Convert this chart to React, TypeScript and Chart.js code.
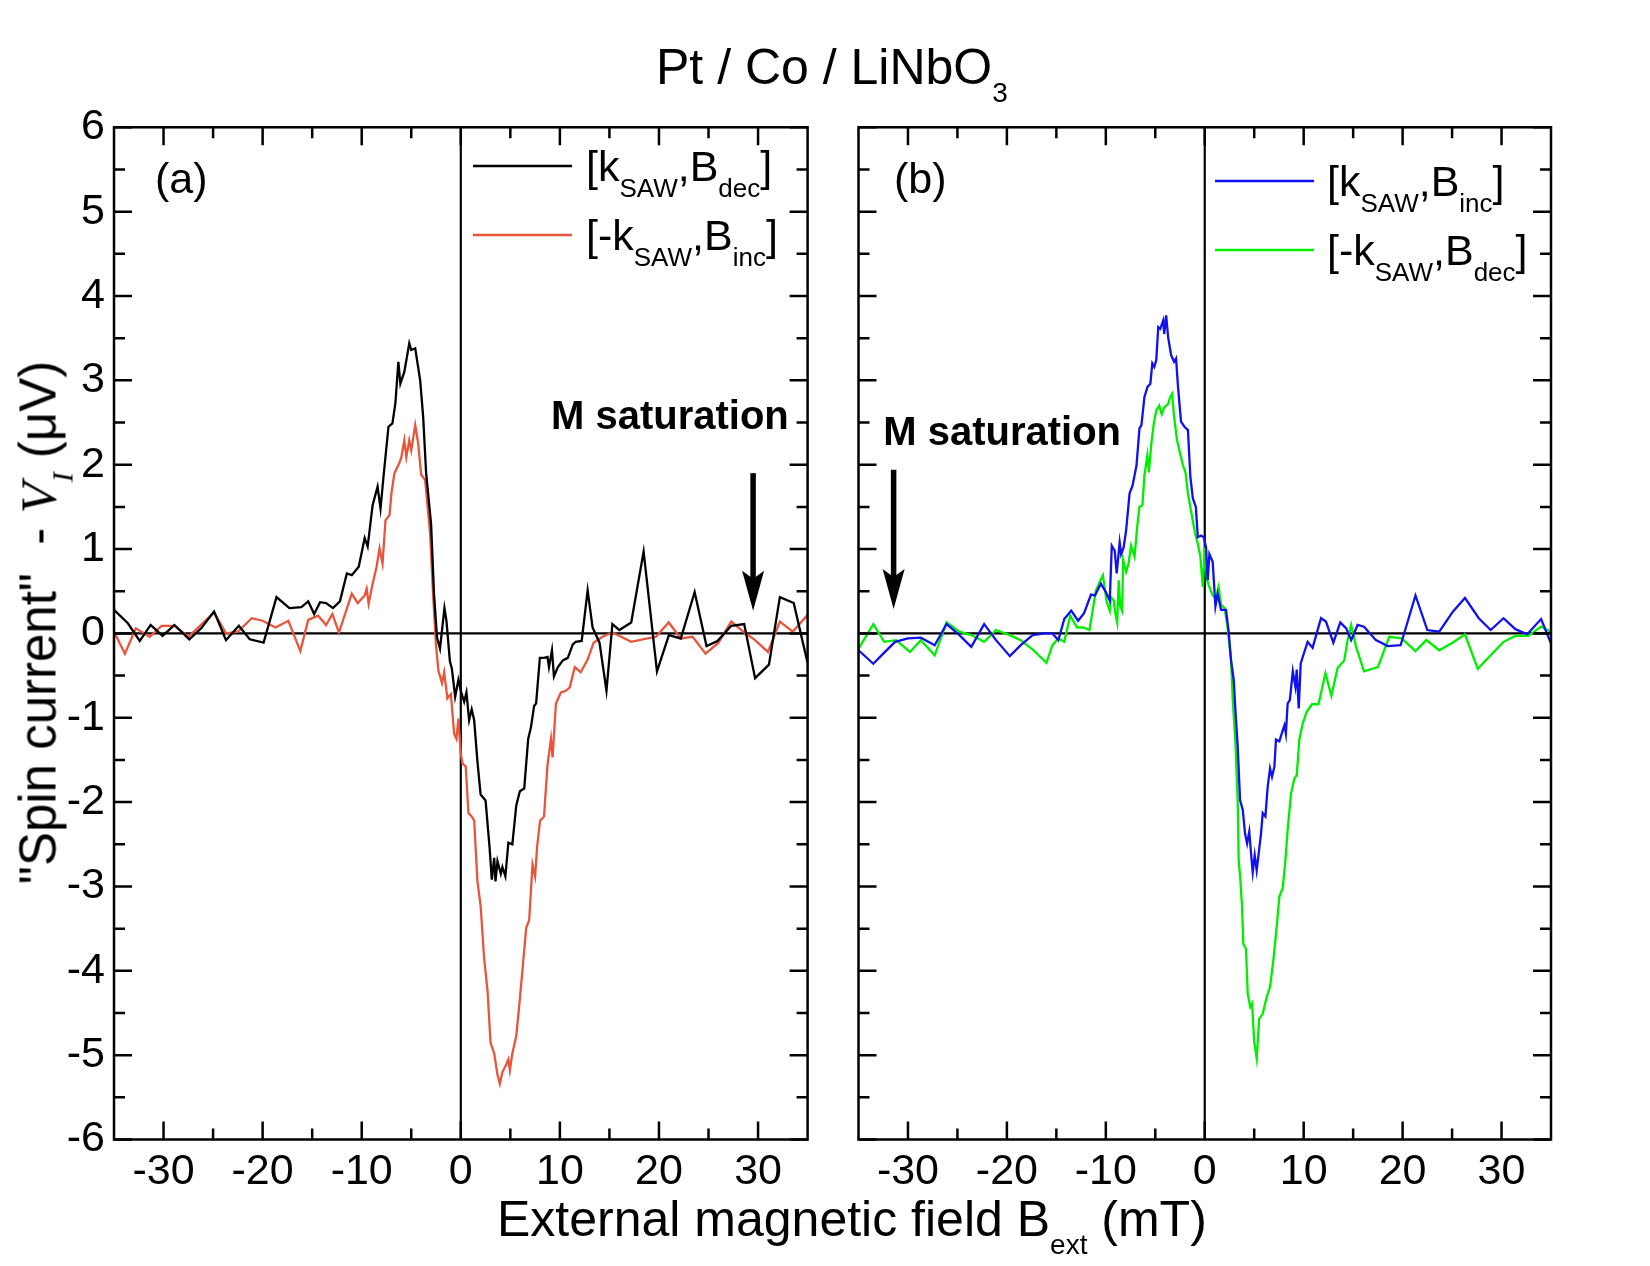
import { useEffect, useRef } from "react";
import { Chart, registerables } from "chart.js";

Chart.register(...registerables);

const FONT = "'Liberation Sans', Arial, sans-serif";

// panel (a): [k_SAW, B_dec]
const kSawDecX = [-35.0, -33.6, -32.4, -31.3, -30.1, -28.9, -27.4, -26.2, -24.9, -23.7, -22.4, -21.3, -19.9, -18.6, -17.3, -16.1, -15.4, -14.8, -14.2, -13.6, -12.9, -12.2, -11.5, -11.0, -10.3, -9.7, -9.4, -8.9, -8.4, -8.1, -7.8, -7.3, -6.9, -6.6, -6.3, -6.1, -5.7, -5.2, -5.0, -4.6, -4.1, -3.8, -3.5, -3.0, -2.7, -2.4, -2.1, -1.65, -1.45, -1.1, -0.9, -0.57, -0.24, 0, 0.34, 0.57, 0.84, 1.1, 1.35, 1.68, 2.0, 2.5, 2.9, 3.13, 3.37, 3.5, 3.7, 4.04, 4.2, 4.5, 4.8, 5.2, 5.6, 5.96, 6.4, 6.8, 7.07, 7.4, 7.6, 7.98, 8.4, 8.75, 8.9, 9.2, 9.4, 9.8, 10.3, 10.8, 11.3, 11.6, 12.2, 12.8, 13.3, 14.0, 14.7, 15.3, 16.0, 17.2, 18.45, 19.8, 21.0, 22.2, 23.6, 24.8, 25.9, 27.3, 28.6, 29.7, 31.1, 32.2, 33.6, 35.0];
const kSawDecY = [0.28, 0.12, -0.09, 0.10, -0.03, 0.10, -0.07, 0.06, 0.26, -0.08, 0.09, -0.07, -0.11, 0.43, 0.30, 0.31, 0.38, 0.23, 0.37, 0.36, 0.30, 0.38, 0.71, 0.69, 0.79, 1.13, 1.03, 1.52, 1.74, 1.48, 1.86, 2.45, 2.49, 2.73, 3.22, 2.96, 3.10, 3.44, 3.36, 3.38, 3.00, 2.57, 1.90, 1.30, 0.46, -0.05, -0.18, 0.30, 0.15, -0.33, -0.42, -0.75, -0.55, -0.68, -0.81, -0.70, -1.03, -0.90, -1.03, -1.52, -1.91, -1.98, -2.53, -2.92, -2.66, -2.94, -2.70, -2.85, -2.77, -2.88, -2.48, -2.50, -2.04, -1.87, -1.84, -1.25, -1.12, -0.86, -0.83, -0.29, -0.29, -0.28, -0.40, -0.20, -0.51, -0.40, -0.32, -0.29, -0.13, -0.10, -0.09, 0.51, 0.07, -0.11, -0.68, 0.11, 0.04, 0.13, 0.97, -0.45, -0.02, -0.06, 0.49, -0.15, -0.09, 0.09, 0.11, -0.53, -0.37, 0.43, 0.36, -0.35];

// panel (a): [-k_SAW, B_inc]
const mkSawIncX = [-35.0, -33.9, -32.8, -31.4, -30.2, -28.9, -27.5, -26.4, -24.9, -23.7, -22.5, -21.1, -20.0, -18.7, -17.4, -16.2, -15.4, -14.4, -13.6, -12.96, -12.3, -11.0, -10.4, -9.7, -9.5, -9.3, -8.9, -8.5, -8.2, -7.9, -7.6, -7.2, -7.0, -6.7, -6.2, -6.0, -5.7, -5.5, -5.2, -5.0, -4.6, -4.3, -4.0, -3.6, -3.1, -2.8, -2.5, -2.26, -1.9, -1.68, -1.35, -1.0, -0.67, -0.44, -0.24, 0, 0.17, 0.5, 0.77, 1.1, 1.35, 1.68, 2.0, 2.36, 2.7, 3.0, 3.37, 3.7, 3.94, 4.2, 4.55, 4.8, 4.95, 5.2, 5.6, 5.9, 6.2, 6.6, 6.9, 7.24, 7.5, 7.7, 8.0, 8.4, 8.75, 9.1, 9.26, 9.4, 9.6, 10.1, 10.6, 11.0, 11.5, 12.1, 12.8, 13.4, 14.3, 15.3, 17.2, 18.35, 19.7, 20.98, 22.2, 23.4, 24.7, 26.0, 27.3, 28.5, 29.6, 31.0, 32.2, 33.5, 35.0];
const mkSawIncY = [0.02, -0.24, 0.06, -0.04, 0.09, 0.09, -0.04, 0.08, 0.25, 0.0, 0.02, 0.18, 0.15, 0.07, 0.15, -0.21, 0.16, 0.21, 0.10, 0.23, 0.01, 0.47, 0.36, 0.45, 0.53, 0.35, 0.59, 0.79, 1.01, 0.83, 1.34, 1.40, 1.66, 1.90, 2.02, 2.09, 2.29, 2.09, 2.29, 2.17, 2.47, 2.25, 1.88, 1.82, 1.19, 0.47, -0.15, -0.44, -0.59, -0.46, -0.77, -0.72, -1.19, -1.25, -1.01, -1.43, -1.54, -1.58, -2.13, -2.17, -2.22, -2.94, -3.23, -3.86, -4.24, -4.85, -4.98, -5.23, -5.34, -5.20, -5.12, -5.05, -5.18, -4.98, -4.77, -4.41, -4.02, -3.49, -3.40, -2.74, -2.88, -2.53, -2.22, -2.17, -1.56, -1.25, -1.47, -1.21, -0.83, -0.70, -0.68, -0.64, -0.40, -0.46, -0.31, -0.11, -0.04, 0.01, -0.10, -0.07, -0.04, 0.13, -0.06, -0.04, -0.24, -0.11, 0.14, 0.02, -0.07, -0.22, 0.14, 0.02, 0.22];

// panel (b): [k_SAW, B_inc]
const kSawIncX = [-35.0, -33.5, -32.5, -31.3, -30.0, -28.7, -27.3, -26.1, -24.8, -23.6, -22.3, -21.1, -19.7, -18.6, -17.4, -16.2, -15.4, -14.8, -14.2, -13.5, -12.8, -12.2, -11.5, -11.1, -10.5, -10.0, -9.6, -9.4, -9.1, -8.9, -8.6, -8.45, -8.2, -7.95, -7.6, -7.3, -6.9, -6.6, -6.4, -6.1, -5.8, -5.5, -5.3, -5.1, -4.9, -4.7, -4.5, -4.2, -4.1, -3.9, -3.7, -3.4, -3.1, -2.9, -2.7, -2.4, -2.05, -1.7, -1.45, -1.2, -0.9, -0.7, -0.37, -0.1, 0.13, 0.3, 0.47, 0.8, 1.08, 1.3, 1.65, 2.15, 2.4, 2.66, 2.93, 3.1, 3.33, 3.57, 3.84, 4.07, 4.28, 4.5, 4.68, 4.85, 5.05, 5.25, 5.45, 5.69, 5.86, 6.13, 6.36, 6.6, 6.8, 7.04, 7.2, 7.54, 7.88, 8.05, 8.2, 8.38, 8.6, 8.9, 9.16, 9.3, 9.5, 9.7, 9.9, 10.4, 10.9, 11.75, 12.25, 13.0, 13.7, 14.3, 14.8, 15.45, 16.1, 17.3, 18.5, 19.8, 21.3, 22.5, 23.7, 25.1, 26.3, 27.7, 28.9, 30.2, 31.4, 32.6, 34.0, 35.0];
const kSawIncY = [-0.20, -0.36, -0.24, -0.10, -0.06, -0.05, -0.14, 0.11, -0.02, -0.16, 0.11, -0.08, -0.27, -0.14, -0.02, 0.0, 0.0, -0.08, 0.17, 0.27, 0.15, 0.24, 0.46, 0.45, 0.59, 0.49, 0.39, 1.04, 0.98, 0.71, 1.08, 0.94, 1.02, 1.22, 1.66, 1.75, 1.99, 2.43, 2.47, 2.80, 2.92, 2.96, 3.20, 3.16, 3.24, 3.63, 3.61, 3.71, 3.55, 3.77, 3.51, 3.30, 3.22, 3.26, 2.92, 2.51, 2.45, 2.41, 1.85, 1.60, 1.50, 1.14, 1.16, 1.14, 1.02, 0.63, 0.94, 0.85, 0.32, 0.47, 0.28, 0.28, 0.04, -0.32, -0.55, -0.91, -1.34, -1.98, -2.09, -2.37, -2.49, -2.35, -2.61, -2.83, -2.63, -2.81, -2.61, -2.37, -2.13, -2.17, -1.82, -1.60, -1.70, -1.58, -1.26, -1.28, -1.15, -1.09, -1.19, -0.83, -0.79, -0.45, -0.63, -0.43, -0.89, -0.36, -0.28, -0.10, -0.17, 0.18, 0.14, -0.11, 0.13, 0.06, -0.08, 0.10, 0.08, -0.08, -0.15, -0.14, 0.45, 0.04, 0.02, 0.26, 0.42, 0.18, 0.04, 0.18, 0.05, -0.01, 0.17, -0.12];

// panel (b): [-k_SAW, B_dec]
const mkSawDecX = [-35.0, -33.5, -32.4, -31.2, -29.8, -28.7, -27.3, -26.1, -24.8, -23.6, -22.3, -21.1, -19.7, -18.6, -17.3, -16.0, -15.4, -14.8, -14.2, -13.6, -12.9, -12.3, -11.65, -11.0, -10.3, -9.9, -9.6, -9.5, -9.2, -9.05, -8.85, -8.7, -8.55, -8.35, -8.25, -7.95, -7.7, -7.45, -7.1, -6.8, -6.6, -6.3, -6.1, -5.8, -5.65, -5.4, -5.15, -4.9, -4.6, -4.35, -4.1, -3.7, -3.5, -3.3, -3.1, -2.8, -2.6, -2.2, -1.95, -1.7, -1.4, -1.0, -0.7, -0.44, -0.2, 0.03, 0.24, 0.47, 0.8, 1.14, 1.4, 1.65, 2.0, 2.3, 2.66, 2.83, 3.1, 3.33, 3.43, 3.6, 3.77, 3.9, 4.17, 4.34, 4.6, 4.78, 5.0, 5.25, 5.5, 5.86, 6.26, 6.6, 6.94, 7.27, 7.54, 7.88, 8.15, 8.38, 8.72, 9.06, 9.3, 9.56, 9.9, 10.3, 10.84, 11.5, 12.2, 12.8, 13.43, 14.1, 14.44, 14.8, 15.3, 16.1, 17.5, 18.65, 19.9, 21.3, 22.4, 23.7, 25.05, 26.3, 27.6, 28.9, 30.2, 31.4, 32.7, 34.0, 35.0];
const mkSawDecY = [-0.18, 0.11, -0.10, -0.08, -0.22, -0.08, -0.26, 0.13, 0.02, -0.02, -0.10, 0.04, -0.02, -0.08, -0.20, -0.35, -0.14, -0.06, -0.10, 0.21, 0.07, 0.07, 0.04, 0.51, 0.69, 0.37, 0.27, 0.43, 0.39, 0.25, 0.13, 0.63, 0.33, 0.27, 0.87, 0.73, 0.83, 1.04, 0.91, 1.30, 1.50, 1.52, 1.87, 2.11, 1.91, 2.25, 2.49, 2.64, 2.70, 2.60, 2.68, 2.72, 2.80, 2.84, 2.57, 2.29, 2.19, 1.99, 1.91, 1.66, 1.46, 1.20, 1.06, 0.91, 0.55, 1.02, 0.63, 0.55, 0.45, 0.42, 0.55, 0.34, 0.30, 0.08, -0.32, -0.79, -1.30, -1.98, -2.69, -2.92, -3.24, -3.68, -3.74, -4.27, -4.43, -4.39, -4.84, -5.04, -4.57, -4.51, -4.31, -4.19, -3.87, -3.48, -3.12, -3.02, -2.69, -2.33, -1.90, -1.72, -1.68, -1.26, -1.07, -0.93, -0.84, -0.84, -0.47, -0.74, -0.41, -0.32, -0.08, 0.10, -0.16, -0.45, -0.40, -0.04, -0.06, -0.21, -0.08, -0.20, -0.11, -0.01, -0.42, -0.26, -0.10, -0.03, -0.03, 0.08, 0.02];

const xTickValues = [-30, -20, -10, 0, 10, 20, 30];
const xMinorValues = [-25, -15, -5, 5, 15, 25];
const yTickValues = [-6, -5, -4, -3, -2, -1, 0, 1, 2, 3, 4, 5, 6];
const yMinorValues = [-5.5, -4.5, -3.5, -2.5, -1.5, -0.5, 0.5, 1.5, 2.5, 3.5, 4.5, 5.5];

type Part = { t: string; sub?: boolean };
type Series = { xs: number[]; ys: number[]; color: string; parts: Part[] };
type Note = { x: number; y: number; align: CanvasTextAlign; arrowX: number; arrowTop: number; arrowTip: number };
type PanelProps = {
  left: number;
  width: number;
  yAxisWidth: number;
  padRight: number;
  showYLabels: boolean;
  label: string;
  labelDx: number;
  series: Series[];
  legend: { lineX0: number; lineX1: number; textX: number; rowY: number[] };
  note: Note;
};

function drawRich(ctx: CanvasRenderingContext2D, x: number, y: number, parts: Part[]) {
  let cx = x;
  for (const p of parts) {
    ctx.font = p.sub ? `26px ${FONT}` : `43px ${FONT}`;
    ctx.fillText(p.t, cx, p.sub ? y + 16 : y);
    cx += ctx.measureText(p.t).width;
  }
}

function makeDecor(p: PanelProps) {
  return {
    id: "decor",
    beforeDatasetsDraw(chart: any) {
      const { ctx, chartArea: a } = chart;
      const xs = chart.scales.x;
      const ys = chart.scales.y;
      ctx.save();
      ctx.strokeStyle = "#000";
      ctx.lineWidth = 2.2;
      const y0 = ys.getPixelForValue(0);
      const x0 = xs.getPixelForValue(0);
      ctx.beginPath();
      ctx.moveTo(a.left, y0);
      ctx.lineTo(a.right, y0);
      ctx.moveTo(x0, a.top);
      ctx.lineTo(x0, a.bottom);
      ctx.stroke();
      ctx.restore();
    },
    afterDatasetsDraw(chart: any) {
      const { ctx, chartArea: a } = chart;
      const xs = chart.scales.x;
      const ys = chart.scales.y;
      ctx.save();
      ctx.strokeStyle = "#000";
      ctx.fillStyle = "#000";
      ctx.lineWidth = 2.5;
      ctx.strokeRect(a.left, a.top, a.right - a.left, a.bottom - a.top);

      // inward ticks on all four sides
      ctx.beginPath();
      const xTick = (v: number, len: number) => {
        const px = xs.getPixelForValue(v);
        ctx.moveTo(px, a.bottom);
        ctx.lineTo(px, a.bottom - len);
        ctx.moveTo(px, a.top);
        ctx.lineTo(px, a.top + len);
      };
      const yTick = (v: number, len: number) => {
        const py = ys.getPixelForValue(v);
        ctx.moveTo(a.left, py);
        ctx.lineTo(a.left + len, py);
        ctx.moveTo(a.right, py);
        ctx.lineTo(a.right - len, py);
      };
      xTickValues.forEach((v) => xTick(v, 18));
      xMinorValues.forEach((v) => xTick(v, 11));
      yTickValues.forEach((v) => yTick(v, 18));
      yMinorValues.forEach((v) => yTick(v, 11));
      ctx.stroke();

      // panel label
      ctx.textBaseline = "alphabetic";
      ctx.textAlign = "left";
      ctx.font = `43px ${FONT}`;
      ctx.fillText(p.label, a.left + p.labelDx, a.top + 66);

      // legend
      const lg = p.legend;
      p.series.forEach((s, i) => {
        const ry = a.top + lg.rowY[i];
        ctx.strokeStyle = s.color;
        ctx.lineWidth = 2.5;
        ctx.beginPath();
        ctx.moveTo(a.left + lg.lineX0, ry);
        ctx.lineTo(a.left + lg.lineX1, ry);
        ctx.stroke();
        ctx.fillStyle = "#000";
        drawRich(ctx, a.left + lg.textX, ry + 15, s.parts);
      });

      // M saturation note and arrow
      const n = p.note;
      ctx.font = `bold 40px ${FONT}`;
      ctx.textAlign = n.align;
      ctx.fillText("M saturation", xs.getPixelForValue(n.x), ys.getPixelForValue(n.y));
      const ax = xs.getPixelForValue(n.arrowX);
      const top = ys.getPixelForValue(n.arrowTop);
      const tip = ys.getPixelForValue(n.arrowTip);
      ctx.strokeStyle = "#000";
      ctx.lineWidth = 5.5;
      ctx.beginPath();
      ctx.moveTo(ax, top);
      ctx.lineTo(ax, tip - 30);
      ctx.stroke();
      ctx.beginPath();
      ctx.moveTo(ax - 11, tip - 40);
      ctx.lineTo(ax, tip - 32);
      ctx.lineTo(ax + 11, tip - 40);
      ctx.lineTo(ax, tip);
      ctx.closePath();
      ctx.fill();
      ctx.restore();
    },
  };
}

function Panel(p: PanelProps) {
  const ref = useRef<HTMLCanvasElement>(null);

  useEffect(() => {
    if (!ref.current) return;
    const tickFont = { family: FONT, size: 43 };
    const chart = new Chart(ref.current, {
      type: "line",
      data: {
        datasets: p.series.map((s) => ({
          data: s.xs.map((x, i) => ({ x, y: s.ys[i] })),
          borderColor: s.color,
          borderWidth: 2.3,
          pointRadius: 0,
          tension: 0,
          fill: false,
        })),
      },
      options: {
        animation: false,
        responsive: true,
        maintainAspectRatio: false,
        devicePixelRatio: 1,
        events: [],
        layout: { padding: { left: 0, top: 127.3, right: p.padRight, bottom: 0 } },
        plugins: { legend: { display: false }, tooltip: { enabled: false } },
        scales: {
          x: {
            type: "linear",
            min: -35,
            max: 35,
            afterBuildTicks: (s: any) => {
              s.ticks = xTickValues.map((v) => ({ value: v }));
            },
            afterFit: (s: any) => {
              s.height = 60.5;
            },
            grid: { display: false, drawTicks: false },
            border: { display: false },
            ticks: {
              font: tickFont,
              color: "#000",
              padding: 7,
              maxRotation: 0,
              autoSkip: false,
              callback: (v: any) => String(v),
            },
          },
          y: {
            type: "linear",
            min: -6,
            max: 6,
            afterBuildTicks: (s: any) => {
              s.ticks = yTickValues.map((v) => ({ value: v }));
            },
            afterFit: (s: any) => {
              s.width = p.yAxisWidth;
            },
            grid: { display: false, drawTicks: false },
            border: { display: false },
            ticks: {
              display: p.showYLabels,
              font: tickFont,
              color: "#000",
              padding: 9,
              autoSkip: false,
              callback: (v: any) => String(v),
            },
          },
        },
      } as any,
      plugins: [makeDecor(p)],
    });
    return () => chart.destroy();
  }, []);

  return (
    <div style={{ position: "absolute", left: p.left, top: 0, width: p.width, height: 1200 }}>
      <canvas ref={ref} />
    </div>
  );
}

const subStyle = { fontSize: 28, position: "relative" as const, top: 18 };

export default function App() {
  return (
    <div
      style={{
        position: "absolute",
        left: 0,
        top: 0,
        width: 1650,
        height: 1266,
        background: "#fff",
        fontFamily: FONT,
        color: "#000",
        overflow: "hidden",
      }}
    >
      <Panel
        left={0}
        width={840}
        yAxisWidth={114}
        padRight={32.4}
        showYLabels={true}
        label="(a)"
        labelDx={41}
        series={[
          { xs: kSawDecX, ys: kSawDecY, color: "#000000", parts: [{ t: "[k" }, { t: "SAW", sub: true }, { t: "," }, { t: "B" }, { t: "dec", sub: true }, { t: "]" }] },
          { xs: mkSawIncX, ys: mkSawIncY, color: "#E8553B", parts: [{ t: "[-k" }, { t: "SAW", sub: true }, { t: "," }, { t: "B" }, { t: "inc", sub: true }, { t: "]" }] },
        ]}
        legend={{ lineX0: 359, lineX1: 458, textX: 472, rowY: [38.7, 107.7] }}
        note={{ x: 33.1, y: 2.42, align: "right", arrowX: 29.5, arrowTop: 1.9, arrowTip: 0.27 }}
      />
      <Panel
        left={830}
        width={820}
        yAxisWidth={28.5}
        padRight={99}
        showYLabels={false}
        label="(b)"
        labelDx={35.5}
        series={[
          { xs: kSawIncX, ys: kSawIncY, color: "#1010F0", parts: [{ t: "[k" }, { t: "SAW", sub: true }, { t: "," }, { t: "B" }, { t: "inc", sub: true }, { t: "]" }] },
          { xs: mkSawDecX, ys: mkSawDecY, color: "#00EE00", parts: [{ t: "[-k" }, { t: "SAW", sub: true }, { t: "," }, { t: "B" }, { t: "dec", sub: true }, { t: "]" }] },
        ]}
        legend={{ lineX0: 356.5, lineX1: 455.5, textX: 468.5, rowY: [53.7, 122.7] }}
        note={{ x: -32.5, y: 2.23, align: "left", arrowX: -31.45, arrowTop: 1.94, arrowTip: 0.29 }}
      />
      <div style={{ position: "absolute", left: 656, top: 41.7, fontSize: 50, lineHeight: "50px", whiteSpace: "pre" }}>
        Pt / Co / LiNbO<span style={subStyle}>3</span>
      </div>
      <div style={{ position: "absolute", left: 497, top: 1193.7, fontSize: 50, lineHeight: "50px", whiteSpace: "pre" }}>
        External magnetic field B<span style={subStyle}>ext</span> (mT)
      </div>
      <div
        style={{
          position: "absolute",
          left: 37.8 - 350,
          top: 622 - 25.5,
          width: 700,
          height: 51,
          fontSize: 51,
          lineHeight: "51px",
          textAlign: "center",
          whiteSpace: "pre",
          transform: "rotate(-90deg)",
        }}
      >
        "Spin current"  -{" "}
        <span style={{ fontFamily: "'Liberation Serif', 'Times New Roman', serif", fontStyle: "italic" }}>
          V<span style={{ fontSize: 30, position: "relative", top: 17 }}>I</span>
        </span>{" "}
        (μV)
      </div>
    </div>
  );
}
